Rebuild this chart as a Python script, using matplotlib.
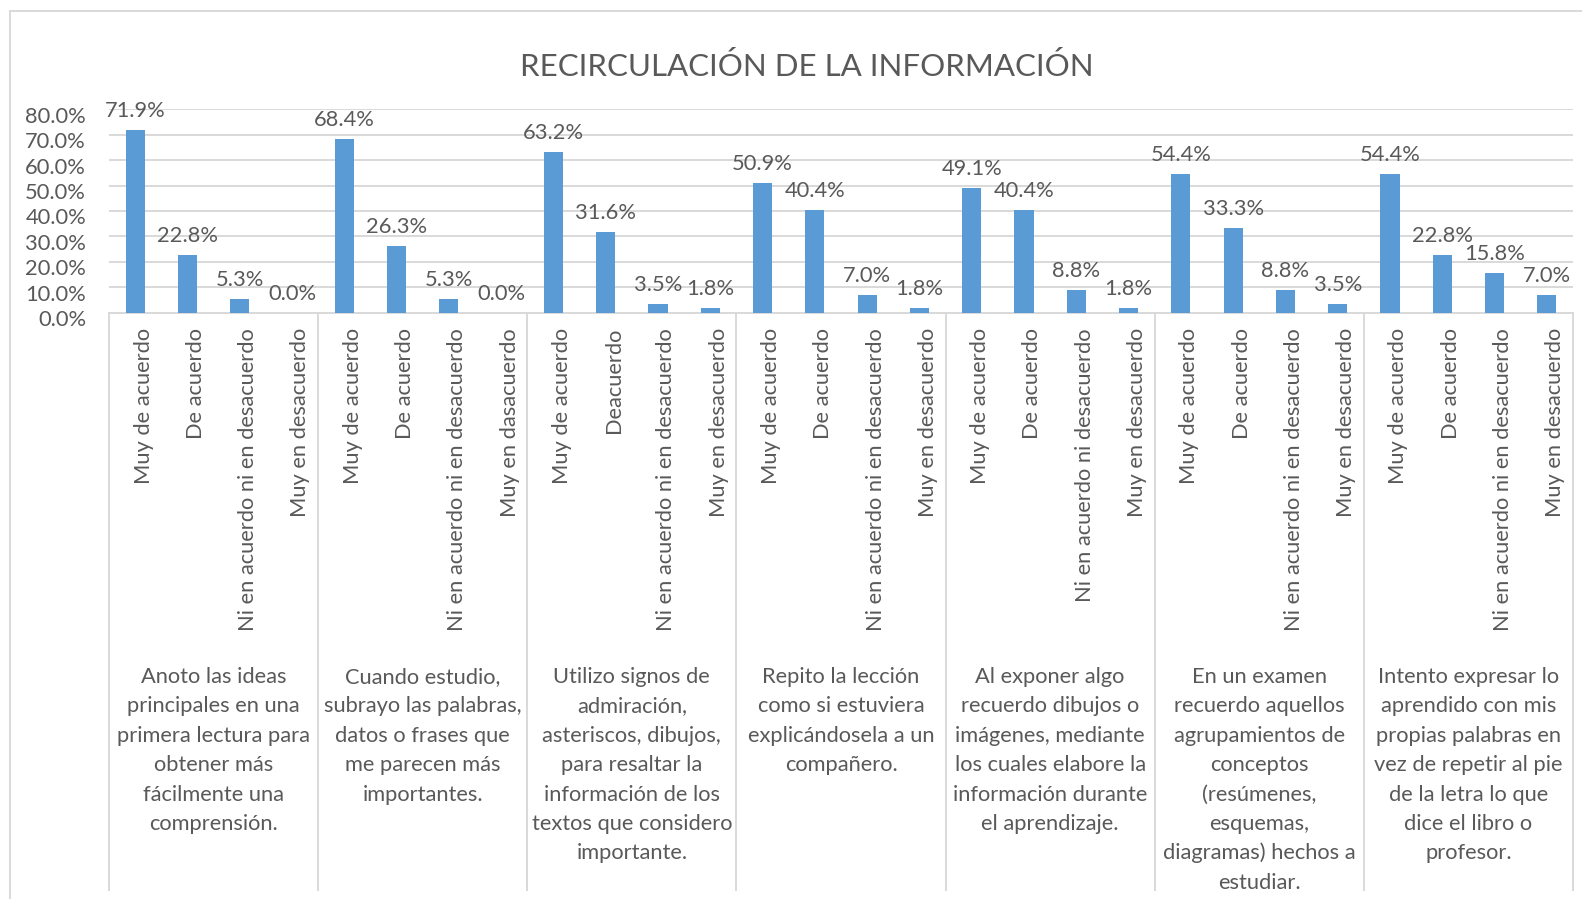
import matplotlib
matplotlib.use("Agg")
import matplotlib.pyplot as plt
from matplotlib.transforms import ScaledTranslation, blended_transform_factory
from matplotlib.lines import Line2D

# ---------------- data ----------------
title = "RECIRCULACIÓN DE LA INFORMACIÓN"

group_labels = [
    "Anoto las ideas\nprincipales en una\nprimera lectura para\nobtener más\nfácilmente una\ncomprensión.",
    "Cuando estudio,\nsubrayo las palabras,\ndatos o frases que\nme parecen más\nimportantes.",
    "Utilizo signos de\nadmiración,\nasteriscos, dibujos,\npara resaltar la\ninformación de los\ntextos que considero\nimportante.",
    "Repito la lección\ncomo si estuviera\nexplicándosela a un\ncompañero.",
    "Al exponer algo\nrecuerdo dibujos o\nimágenes, mediante\nlos cuales elabore la\ninformación durante\nel aprendizaje.",
    "En un examen\nrecuerdo aquellos\nagrupamientos de\nconceptos\n(resúmenes,\nesquemas,\ndiagramas) hechos a\nestudiar.",
    "Intento expresar lo\naprendido con mis\npropias palabras en\nvez de repetir al pie\nde la letra lo que\ndice el libro o\nprofesor.",
]

cat_labels = [
    ["Muy de acuerdo", "De acuerdo", "Ni en acuerdo ni en desacuerdo", "Muy en desacuerdo"],
    ["Muy de acuerdo", "De acuerdo", "Ni en acuerdo ni en desacuerdo", "Muy en dasacuerdo"],
    ["Muy de acuerdo", "Deacuerdo", "Ni en acuerdo ni en desacuerdo", "Muy en desacuerdo"],
    ["Muy de acuerdo", "De acuerdo", "Ni en acuerdo ni en desacuerdo", "Muy en desacuerdo"],
    ["Muy de acuerdo", "De acuerdo", "Ni en acuerdo ni desacuerdo", "Muy en desacuerdo"],
    ["Muy de acuerdo", "De acuerdo", "Ni en acuerdo ni en desacuerdo", "Muy en desacuerdo"],
    ["Muy de acuerdo", "De acuerdo", "Ni en acuerdo ni en desacuerdo", "Muy en desacuerdo"],
]

muy_de_acuerdo = [71.9, 68.4, 63.2, 50.9, 49.1, 54.4, 54.4]
de_acuerdo     = [22.8, 26.3, 31.6, 40.4, 40.4, 33.3, 22.8]
ni_ni          = [5.3, 5.3, 3.5, 7.0, 8.8, 8.8, 15.8]
muy_desacuerdo = [0.0, 0.0, 1.8, 1.8, 1.8, 3.5, 7.0]

y_ticks = [0, 10, 20, 30, 40, 50, 60, 70, 80]

# ---------------- style ----------------
W, H, DPI = 1582, 899, 100
TXT = "#595959"
GRID = "#D9D9D9"
BAR = "#5B9BD5"
FAMILY = ["Lato", "DejaVu Sans"]

fig = plt.figure(figsize=(W / DPI, H / DPI), dpi=DPI)
fig.patch.set_facecolor("white")
renderer = fig.canvas.get_renderer()


def fit_size(text, target_px, ref=20.0):
    t = fig.text(0, 0, text, fontsize=ref, family=FAMILY)
    w = t.get_window_extent(renderer).width
    t.remove()
    return ref * target_px / w


fs_body = fit_size("Muy de acuerdo", 157)
fs_title = fit_size(title, 571)


def px(dy):
    return ScaledTranslation(0, dy / DPI, fig.dpi_scale_trans)


def pxx(dx, dy):
    return ScaledTranslation(dx / DPI, dy / DPI, fig.dpi_scale_trans)


# plot area in pixels
left_px, right_px, top_px, base_px = 109, 1573, 109.3, 312.7
ax = fig.add_axes([left_px / W, 1 - base_px / H, (right_px - left_px) / W, (base_px - top_px) / H])

values = []
labels_flat = []
for g in range(7):
    values += [muy_de_acuerdo[g], de_acuerdo[g], ni_ni[g], muy_desacuerdo[g]]
    labels_flat += cat_labels[g]
xs = list(range(len(values)))

ax.bar(xs, values, width=0.364, color=BAR, zorder=3)
ax.set_xlim(-0.5, len(values) - 0.5)
ax.set_ylim(0, 80)
ax.set_yticks(y_ticks)
ax.set_yticklabels([f"{v:.1f}%" for v in y_ticks])
ax.yaxis.grid(True, color=GRID, linewidth=1.4, zorder=0)
ax.set_axisbelow(True)
for s in ["left", "right", "top"]:
    ax.spines[s].set_visible(False)
ax.spines["bottom"].set_color(GRID)
ax.spines["bottom"].set_linewidth(1.4)
ax.tick_params(axis="y", length=0, pad=16.5, labelsize=fs_body, labelcolor=TXT)
ax.tick_params(axis="x", length=0, labelbottom=False)
for lbl in ax.get_yticklabels():
    lbl.set_family(FAMILY)
    lbl.set_verticalalignment("baseline")
    lbl.set_transform(lbl.get_transform() + px(-13.5))

# data labels
for x, v in zip(xs, values):
    ax.annotate(f"{v:.1f}%", xy=(x, v), xytext=(0, 13 * 0.72), textcoords="offset points",
                ha="center", va="baseline", fontsize=fs_body, color=TXT, family=FAMILY,
                annotation_clip=False)

# rotated category labels
trans_xfig = blended_transform_factory(ax.transData, fig.transFigure)
for x, lab in zip(xs, labels_flat):
    ax.text(x, 1 - 328 / H, lab, rotation=90, rotation_mode="anchor", ha="right", va="baseline",
            fontsize=fs_body, color=TXT, family=FAMILY,
            transform=trans_xfig + pxx(14.5, 0))

# group labels
line_step = 29.4
for g, lab in enumerate(group_labels):
    cx = 4 * g + 1.5
    for i, line in enumerate(lab.split("\n")):
        ax.text(cx, 1 - 683 / H, line, ha="center", va="baseline", fontsize=fs_body,
                color=TXT, family=FAMILY, transform=trans_xfig + px(-i * line_step))

# separators between groups
y_top = 1 - base_px / H
y_bot = 1 - 890 / H
for b in range(8):
    xb = 4 * b - 0.5
    ax.add_line(Line2D([xb, xb], [y_top, y_bot], transform=trans_xfig, color=GRID,
                       linewidth=1.4, clip_on=False))

# title
fig.text(807 / W, 1 - 76.5 / H, title, ha="center", va="baseline", fontsize=fs_title,
         color=TXT, family=FAMILY)

# chart border (top and left visible, rest cropped)
fig.add_artist(Line2D([10 / W, 1.01], [1 - 10.5 / H, 1 - 10.5 / H], transform=fig.transFigure,
                      color=GRID, linewidth=1.4))
fig.add_artist(Line2D([10 / W, 10 / W], [1 - 10.5 / H, -0.01], transform=fig.transFigure,
                      color=GRID, linewidth=1.4))

fig.savefig("out.png", dpi=DPI, facecolor="white")
